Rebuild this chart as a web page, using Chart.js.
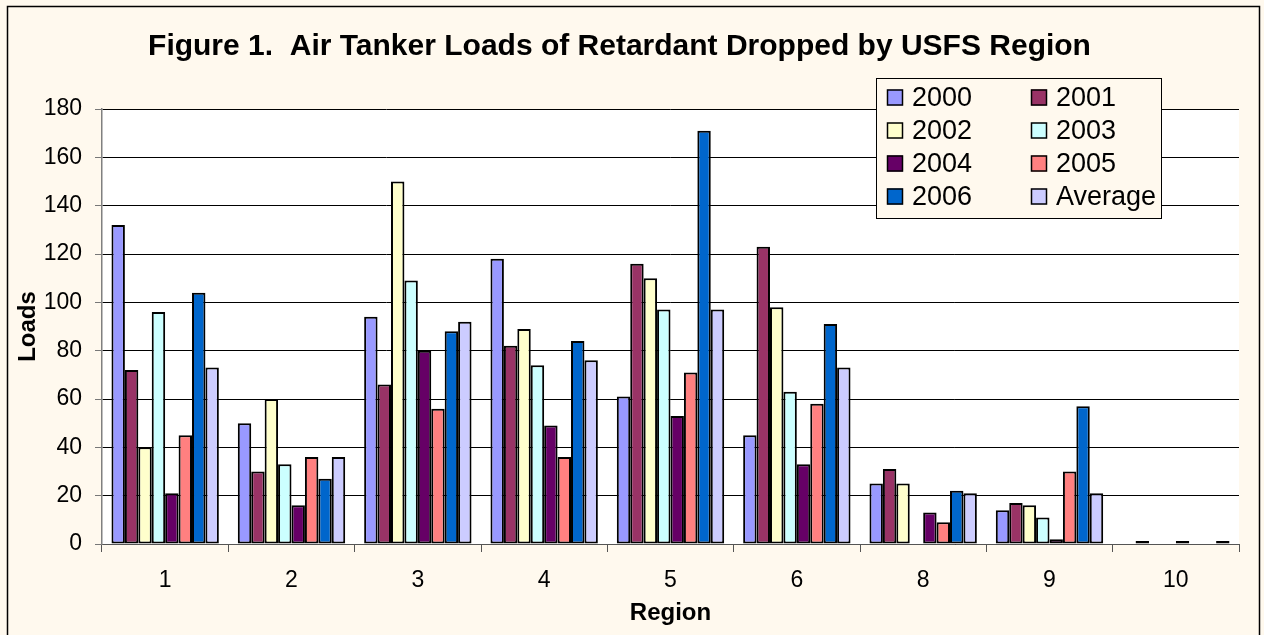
<!DOCTYPE html>
<html>
<head>
<meta charset="utf-8">
<title>Air Tanker Loads</title>
<script src="https://cdn.jsdelivr.net/npm/chart.js@4.4.1/dist/chart.umd.min.js"></script>
<style>
  html, body { margin: 0; padding: 0; background: #fff9ee; overflow: hidden; }
  canvas { display: block; }
</style>
</head>
<body>
<canvas id="c" width="1264" height="635"></canvas>
<script>
  // ---------- Data ----------
  const REGIONS = ["1", "2", "3", "4", "5", "6", "8", "9", "10"];
  const Y_TICKS = [0, 20, 40, 60, 80, 100, 120, 140, 160, 180];

  const Y2000 = [132, 50, 94, 118, 61, 45, 25, 14, null];
  const Y2001 = [72, 30, 66, 82, 116, 123, 31, 17, 1];
  const Y2002 = [40, 60, 150, 89, 110, 98, 25, 16, null];
  const Y2003 = [96, 33, 109, 74, 97, 63, null, 11, null];
  const Y2004 = [21, 16, 80, 49, 53, 33, 13, 2, 1];
  const Y2005 = [45, 36, 56, 36, 71, 58, 9, 30, null];
  const Y2006 = [104, 27, 88, 84, 171, 91, 22, 57, null];
  const AVG = [73, 36, 92, 76, 97, 73, 21, 21, 1];

  const SERIES = [
    ["2000", Y2000, "#9999ff"],
    ["2001", Y2001, "#993366"],
    ["2002", Y2002, "#ffffcc"],
    ["2003", Y2003, "#ccffff"],
    ["2004", Y2004, "#660066"],
    ["2005", Y2005, "#ff8080"],
    ["2006", Y2006, "#0066cc"],
    ["Average", AVG, "#ccccff"],
  ];

  const FONT = "'Liberation Sans', Arial, sans-serif";
  const BG = "#fff9ee";

  // white plot area + outer frame
  const frame = {
    id: "frame",
    beforeDraw(chart) {
      const { ctx, chartArea: a } = chart;
      ctx.save();
      ctx.fillStyle = BG;
      ctx.fillRect(0, 0, chart.width, chart.height);
      ctx.fillStyle = "#ffffff";
      ctx.fillRect(a.left, a.top, a.right - a.left, a.bottom - a.top);
      ctx.strokeStyle = "#000";
      ctx.lineWidth = 1.5;
      ctx.strokeRect(7.5, 6.5, 1252, 700);
      ctx.restore();
    },
  };

  // Excel-like two-column legend box inside the plot
  const boxLegend = {
    id: "boxLegend",
    afterDraw(chart) {
      const { ctx } = chart;
      const ds = chart.data.datasets;
      const bx = 876, by = 78, bw = 285, bh = 140;
      ctx.save();
      ctx.fillStyle = BG;
      ctx.fillRect(bx, by, bw, bh);
      ctx.strokeStyle = "#000";
      ctx.lineWidth = 1;
      ctx.strokeRect(bx + 0.5, by + 0.5, bw, bh);
      ctx.font = "27px " + FONT;
      ctx.textBaseline = "middle";
      ds.forEach((d, i) => {
        const col = i % 2, row = Math.floor(i / 2);
        const sx = col ? 1031 : 887;
        const cy = 97.5 + row * 33;
        ctx.fillStyle = d.backgroundColor;
        ctx.fillRect(sx, cy - 8, 16, 16);
        ctx.strokeStyle = "#000";
        ctx.lineWidth = 1.5;
        ctx.strokeRect(sx + 0.5, cy - 7.5, 15, 15);
        ctx.fillStyle = "#000";
        ctx.fillText(d.label, sx + 25, cy + 1);
      });
      ctx.restore();
    },
  };

  new Chart(document.getElementById("c"), {
    type: "bar",
    data: {
      labels: REGIONS,
      datasets: SERIES.map(([label, data, color]) => ({
        label,
        data,
        backgroundColor: color,
        borderColor: "#000",
        borderWidth: 2,
        borderSkipped: false,
        minBarLength: 3,
        categoryPercentage: 0.85,
        barPercentage: 1.0,
      })),
    },
    options: {
      responsive: false,
      devicePixelRatio: 1,
      animation: false,
      layout: { padding: { left: 0, right: 25, top: 0, bottom: 0 } },
      plugins: {
        legend: { display: false },
        tooltip: { enabled: false },
        title: {
          display: true,
          text: "Figure 1.  Air Tanker Loads of Retardant Dropped by USFS Region",
          color: "#000",
          font: { family: FONT, size: 30, weight: "bold" },
          padding: { top: 29, bottom: 44 },
        },
      },
      scales: {
        x: {
          offset: true,
          afterFit: (s) => { s.height = 91; },
          grid: {
            offset: true,
            drawOnChartArea: false,
            drawTicks: true,
            tickLength: 8,
            tickColor: "#555",
          },
          border: { color: "#555", width: 1 },
          ticks: { color: "#000", font: { family: FONT, size: 23 }, padding: 15 },
          title: {
            display: true,
            text: "Region",
            color: "#000",
            font: { family: FONT, size: 24, weight: "bold" },
            padding: { top: 0, bottom: 7 },
          },
        },
        y: {
          min: 0,
          max: 180,
          afterFit: (s) => { s.width = 102; },
          afterBuildTicks: (s) => { s.ticks = Y_TICKS.map((v) => ({ value: v })); },
          grid: { color: "#000", lineWidth: 1, tickLength: 7, tickColor: "#777" },
          border: { color: "#808080", width: 1.5 },
          ticks: { color: "#000", font: { family: FONT, size: 23 }, padding: 13 },
          title: {
            display: true,
            text: "Loads",
            color: "#000",
            font: { family: FONT, size: 24, weight: "bold" },
            padding: { top: 14, bottom: 0 },
          },
        },
      },
    },
    plugins: [frame, boxLegend],
  });
</script>
</body>
</html>
